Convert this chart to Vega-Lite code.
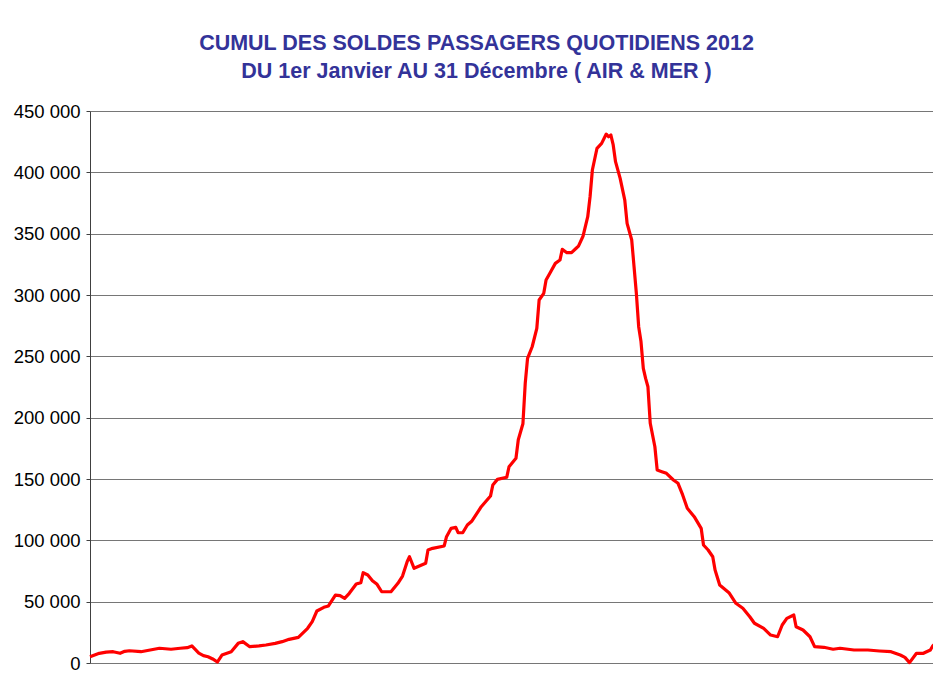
{
  "$schema": "https://vega.github.io/schema/vega-lite/v6.json",
  "autosize": "none",
  "width": 845,
  "height": 552,
  "padding": {"left": 90, "top": 111, "right": 0, "bottom": 12},
  "background": "white",
  "title": {
    "text": ["CUMUL DES SOLDES PASSAGERS QUOTIDIENS 2012", "DU 1er Janvier AU 31 Décembre ( AIR & MER )"],
    "font": "Liberation Sans",
    "fontSize": 21.5,
    "fontWeight": "bold",
    "color": "#333399",
    "anchor": "middle",
    "frame": "group",
    "dx": -36,
    "offset": 20,
    "lineHeight": 28
  },
  "config": {"view": {"stroke": null}},
  "data": {"values": [
    {"jour": 1, "cumul": 5100}, {"jour": 3, "cumul": 6500}, {"jour": 5, "cumul": 7900}, {"jour": 8, "cumul": 8800},
    {"jour": 11, "cumul": 9200}, {"jour": 14, "cumul": 7900}, {"jour": 16, "cumul": 9500}, {"jour": 18, "cumul": 10000},
    {"jour": 23, "cumul": 9200}, {"jour": 27, "cumul": 10600}, {"jour": 31, "cumul": 12000}, {"jour": 36, "cumul": 11200},
    {"jour": 40, "cumul": 12000}, {"jour": 43, "cumul": 12500}, {"jour": 45, "cumul": 13900}, {"jour": 48, "cumul": 8100},
    {"jour": 50, "cumul": 6000}, {"jour": 52, "cumul": 5100}, {"jour": 54, "cumul": 3300}, {"jour": 56, "cumul": 800},
    {"jour": 58, "cumul": 6500}, {"jour": 62, "cumul": 9200}, {"jour": 65, "cumul": 16000}, {"jour": 67, "cumul": 17400},
    {"jour": 70, "cumul": 13300}, {"jour": 74, "cumul": 13900}, {"jour": 77, "cumul": 14700}, {"jour": 81, "cumul": 16000},
    {"jour": 84, "cumul": 17400}, {"jour": 87, "cumul": 19300}, {"jour": 91, "cumul": 20900}, {"jour": 95, "cumul": 28300},
    {"jour": 97, "cumul": 33700}, {"jour": 99, "cumul": 42400}, {"jour": 102, "cumul": 45400}, {"jour": 104, "cumul": 46500},
    {"jour": 107, "cumul": 55400}, {"jour": 109, "cumul": 54900}, {"jour": 111, "cumul": 52700}, {"jour": 113, "cumul": 56800},
    {"jour": 116, "cumul": 64400}, {"jour": 118, "cumul": 65500}, {"jour": 119, "cumul": 73600}, {"jour": 121, "cumul": 71700},
    {"jour": 123, "cumul": 67100}, {"jour": 125, "cumul": 64100}, {"jour": 127, "cumul": 58100}, {"jour": 131, "cumul": 58100},
    {"jour": 134, "cumul": 65000}, {"jour": 136, "cumul": 70900}, {"jour": 138, "cumul": 82600}, {"jour": 139, "cumul": 86600},
    {"jour": 141, "cumul": 77200}, {"jour": 146, "cumul": 81300}, {"jour": 147, "cumul": 92100}, {"jour": 149, "cumul": 93500},
    {"jour": 154, "cumul": 95400}, {"jour": 155, "cumul": 103000}, {"jour": 157, "cumul": 109800}, {"jour": 159, "cumul": 110600},
    {"jour": 160, "cumul": 106200}, {"jour": 162, "cumul": 106200}, {"jour": 164, "cumul": 112500}, {"jour": 166, "cumul": 115800},
    {"jour": 170, "cumul": 127400}, {"jour": 174, "cumul": 136100}, {"jour": 175, "cumul": 145100}, {"jour": 177, "cumul": 149700},
    {"jour": 181, "cumul": 151400}, {"jour": 182, "cumul": 160000}, {"jour": 185, "cumul": 166900}, {"jour": 186, "cumul": 182000},
    {"jour": 188, "cumul": 195000}, {"jour": 189, "cumul": 228000}, {"jour": 190, "cumul": 248400}, {"jour": 192, "cumul": 257800},
    {"jour": 194, "cumul": 272800}, {"jour": 195, "cumul": 295900}, {"jour": 197, "cumul": 301400}, {"jour": 198, "cumul": 312200},
    {"jour": 200, "cumul": 319000}, {"jour": 202, "cumul": 325800}, {"jour": 204, "cumul": 328500}, {"jour": 205, "cumul": 337200},
    {"jour": 207, "cumul": 334500}, {"jour": 209, "cumul": 334500}, {"jour": 211, "cumul": 338100}, {"jour": 212, "cumul": 339900},
    {"jour": 214, "cumul": 348100}, {"jour": 216, "cumul": 363800}, {"jour": 217, "cumul": 380100}, {"jour": 218, "cumul": 401900},
    {"jour": 220, "cumul": 419600}, {"jour": 222, "cumul": 423600}, {"jour": 224, "cumul": 431200}, {"jour": 225, "cumul": 429000},
    {"jour": 226, "cumul": 430400}, {"jour": 227, "cumul": 422300}, {"jour": 228, "cumul": 408700}, {"jour": 230, "cumul": 395100},
    {"jour": 232, "cumul": 377400}, {"jour": 233, "cumul": 358400}, {"jour": 235, "cumul": 344800}, {"jour": 236, "cumul": 323100},
    {"jour": 237, "cumul": 301400}, {"jour": 238, "cumul": 274200}, {"jour": 239, "cumul": 262000}, {"jour": 240, "cumul": 240200},
    {"jour": 241, "cumul": 232000}, {"jour": 242, "cumul": 225200}, {"jour": 243, "cumul": 195400}, {"jour": 245, "cumul": 176300},
    {"jour": 246, "cumul": 157300}, {"jour": 248, "cumul": 156000}, {"jour": 250, "cumul": 154600}, {"jour": 253, "cumul": 149200},
    {"jour": 255, "cumul": 146500}, {"jour": 257, "cumul": 137000}, {"jour": 259, "cumul": 126100}, {"jour": 262, "cumul": 119300},
    {"jour": 265, "cumul": 109800}, {"jour": 266, "cumul": 96200}, {"jour": 268, "cumul": 92100}, {"jour": 270, "cumul": 86600},
    {"jour": 271, "cumul": 75800}, {"jour": 273, "cumul": 63600}, {"jour": 277, "cumul": 57300}, {"jour": 280, "cumul": 48700},
    {"jour": 283, "cumul": 44600}, {"jour": 286, "cumul": 37700}, {"jour": 288, "cumul": 32400}, {"jour": 292, "cumul": 28300},
    {"jour": 295, "cumul": 22800}, {"jour": 298, "cumul": 21400}, {"jour": 300, "cumul": 31000}, {"jour": 302, "cumul": 36400},
    {"jour": 305, "cumul": 39100}, {"jour": 306, "cumul": 29600}, {"jour": 309, "cumul": 26900}, {"jour": 312, "cumul": 21400},
    {"jour": 314, "cumul": 13300}, {"jour": 318, "cumul": 12800}, {"jour": 322, "cumul": 11200}, {"jour": 325, "cumul": 12000},
    {"jour": 331, "cumul": 10600}, {"jour": 337, "cumul": 10600}, {"jour": 342, "cumul": 9800}, {"jour": 347, "cumul": 9200},
    {"jour": 351, "cumul": 6500}, {"jour": 353, "cumul": 4600}, {"jour": 355, "cumul": 300}, {"jour": 358, "cumul": 7900},
    {"jour": 361, "cumul": 7900}, {"jour": 364, "cumul": 10600}, {"jour": 365, "cumul": 13900}, {"jour": 366, "cumul": 15500}
  ]},
  "mark": {"type": "line", "color": "#ff0000", "strokeWidth": 3.2, "strokeJoin": "round", "clip": false},
  "encoding": {
    "x": {"field": "jour", "type": "quantitative", "scale": {"domain": [1, 366], "nice": false, "zero": false}, "axis": null},
    "y": {
      "field": "cumul", "type": "quantitative",
      "scale": {"domain": [0, 450000], "nice": false, "zero": true},
      "axis": {
        "title": null,
        "values": [0, 50000, 100000, 150000, 200000, 250000, 300000, 350000, 400000, 450000],
        "labelExpr": "replace(format(datum.value, ','), regexp(',', 'g'), ' ')",
        "labelFont": "Liberation Sans",
        "labelFontSize": 18.5,
        "labelColor": "#000000",
        "labelPadding": 6,
        "tickSize": 4,
        "tickColor": "#404040",
        "domain": true,
        "domainColor": "#404040",
        "domainWidth": 1,
        "grid": true,
        "gridColor": "#767676",
        "gridWidth": 1.2
      }
    }
  }
}
